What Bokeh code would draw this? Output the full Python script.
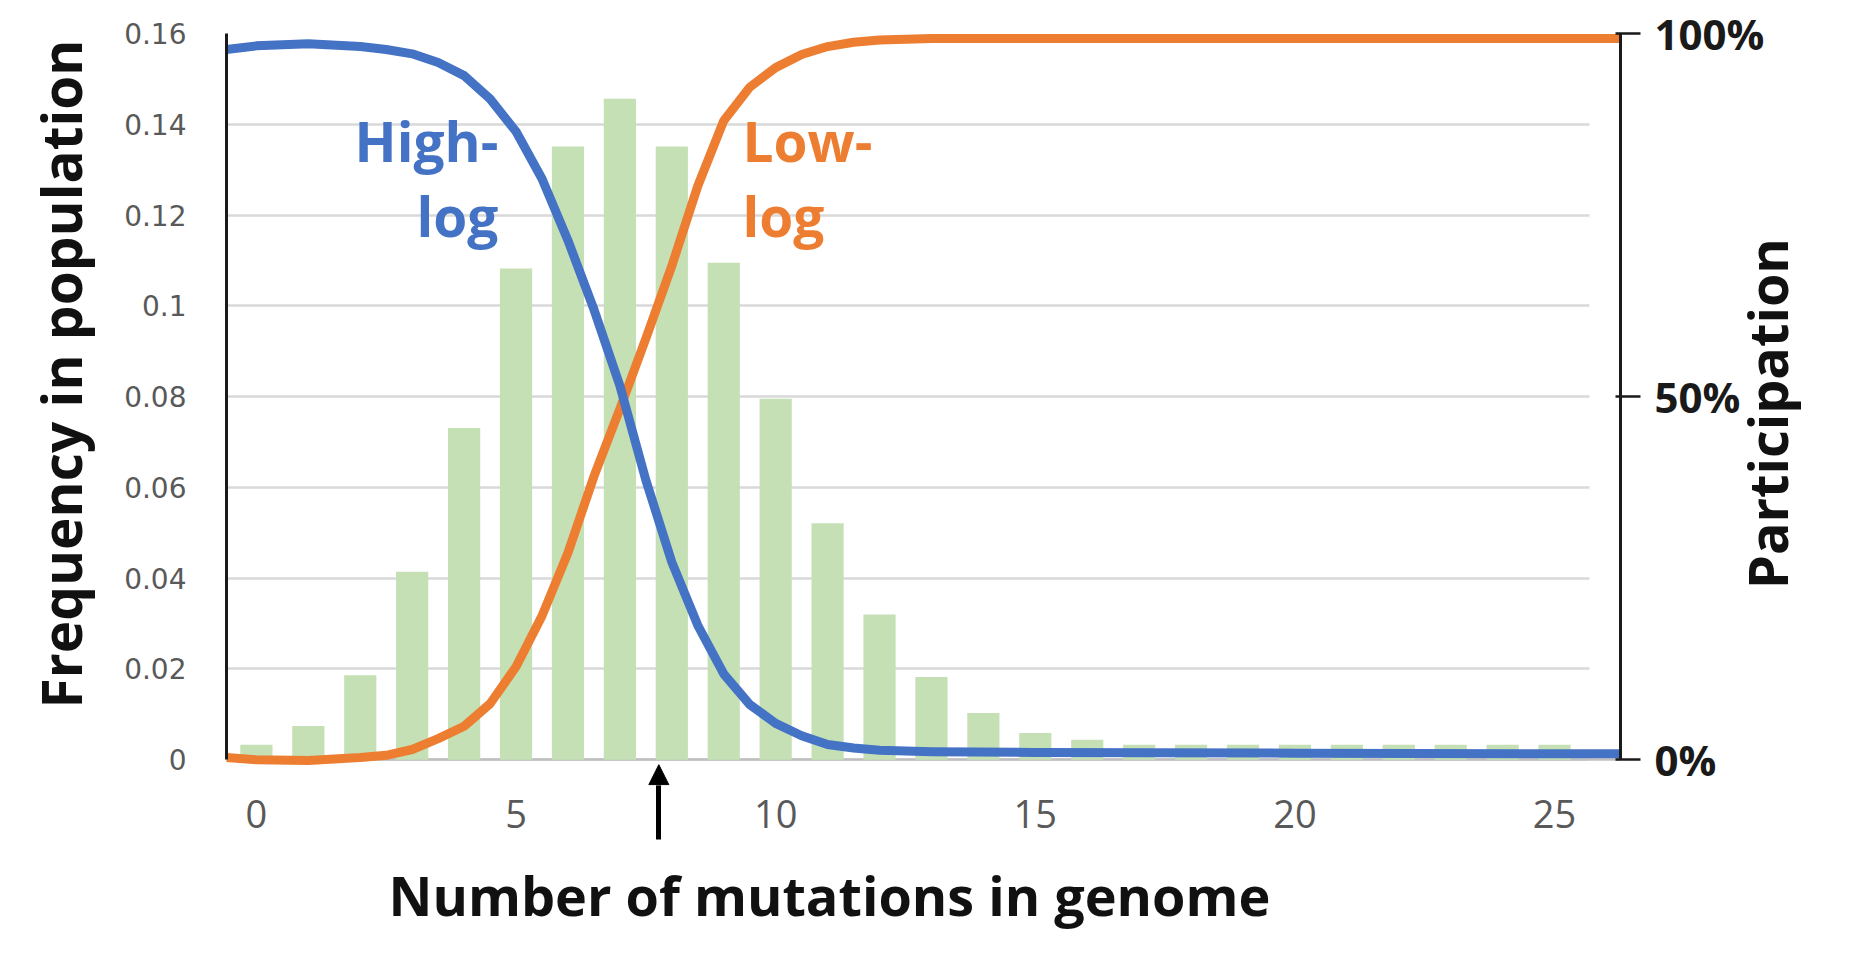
from math import pi
from bokeh.plotting import figure
from bokeh.models import (Range1d, LinearAxis, FixedTicker, NumeralTickFormatter,
                          PrintfTickFormatter, Label, Arrow, NormalHead, Title, Grid)
from bokeh.embed import file_html
from bokeh.resources import INLINE

# ---------------- data ----------------
mutations = list(range(26))
frequency = [0.0033, 0.0074, 0.0186, 0.0414, 0.0731, 0.1082, 0.1351, 0.1456,
             0.1351, 0.1095, 0.0795, 0.0521, 0.0320, 0.0182, 0.0103, 0.0059,
             0.0044, 0.0033, 0.0033, 0.0033, 0.0033, 0.0033, 0.0033, 0.0033,
             0.0033, 0.0033]

curve_x = [-0.58, 0, 1, 2, 2.5, 3, 3.5, 4, 4.5, 5, 5.5, 6, 6.5, 7, 7.5, 8, 8.5,
           9, 9.5, 10, 10.5, 11, 11.5, 12, 13, 15, 20, 26.3]
high_log = [97.8, 98.3, 98.6, 98.2, 97.8, 97.2, 96.0, 94.2, 91.0, 86.5, 80.0,
            71.5, 62.0, 51.5, 38.5, 27.2, 18.5, 11.8, 7.6, 5.0, 3.3, 2.1, 1.6,
            1.3, 1.1, 1.0, 0.9, 0.8]
low_log = [0.3, 0.0, -0.1, 0.3, 0.6, 1.4, 2.9, 4.6, 7.7, 12.8, 19.8, 28.5,
           39.0, 48.3, 58.0, 68.0, 79.0, 88.0, 92.6, 95.3, 97.1, 98.2, 98.8,
           99.1, 99.3, 99.3, 99.3, 99.3]

freq_ticks = [0, 0.02, 0.04, 0.06, 0.08, 0.10, 0.12, 0.14, 0.16]
x_ticks = [0, 5, 10, 15, 20, 25]
pct_ticks = [0, 50, 100]

arrow_x = 7.75
curve_labels = ["High-", "log", "Low-", "log"]
curve_label_x = [4.66, 4.66, 9.36, 9.36]
curve_label_y = [0.1364, 0.1198, 0.1364, 0.1198]

x_title = "Number of mutations in genome"
y_title = "Frequency in population"
y2_title = "Participation"
y2_title_pos = 23.5   # where the rotated right title starts (on the % scale)

BLUE = "#4472C4"
ORANGE = "#ED7D31"
GREEN = "#C5E0B4"

# frame extends a little below 0 so the arrow head fits inside it
Y_MIN = -0.00569
PCT_MIN = Y_MIN / 0.16 * 100

# ---------------- figure ----------------
p = figure(width=1844, height=956, output_backend="svg", toolbar_location=None,
           x_range=Range1d(-0.576, 26.27), y_range=Range1d(Y_MIN, 0.16),
           min_border_left=221, min_border_right=224, min_border_top=33,
           min_border_bottom=166)
p.extra_y_ranges = {"pct": Range1d(PCT_MIN, 100)}
p.outline_line_color = None
p.background_fill_color = "white"
p.border_fill_color = "white"

# grid
p.xgrid.visible = False
p.ygrid.ticker = FixedTicker(ticks=freq_ticks)
p.ygrid.grid_line_color = "#D9D9D9"
p.ygrid.grid_line_width = 2.5
p.ygrid.cross_bounds = (-0.576, 25.67)
# horizontal category-axis line at y = 0
p.add_layout(Grid(dimension=1, ticker=FixedTicker(ticks=[0]),
                  grid_line_color="#BFBFBF", grid_line_width=2.5))

# bars
p.vbar(x=mutations, top=frequency, width=0.62, color=GREEN, line_color=None)

# curves
p.line(curve_x, low_log, y_range_name="pct", line_color=ORANGE, line_width=9,
       line_join="round", line_cap="round")
p.line(curve_x, high_log, y_range_name="pct", line_color=BLUE, line_width=9,
       line_join="round", line_cap="round")

# left axis
ya = p.yaxis[0]
ya.bounds = (0, 0.16)
ya.ticker = FixedTicker(ticks=freq_ticks)
ya.formatter = NumeralTickFormatter(format="0.[00]")
ya.axis_line_color = "#1a1a1a"
ya.axis_line_width = 3
ya.major_tick_out = 0
ya.major_tick_in = 0
ya.minor_tick_out = 0
ya.minor_tick_in = 0
ya.major_label_standoff = 40
ya.major_label_text_font = "DejaVu Sans"
ya.major_label_text_font_size = "28px"
ya.major_label_text_color = "#595959"

# bottom axis; its minor tick at the arrow position is the arrow shaft
xa = p.xaxis[0]
xa.ticker = FixedTicker(ticks=x_ticks, minor_ticks=[arrow_x])
xa.axis_line_color = None
xa.major_tick_out = 0
xa.major_tick_in = 0
xa.minor_tick_in = 0
xa.minor_tick_out = 54
xa.minor_tick_line_color = "black"
xa.minor_tick_line_width = 5
xa.major_label_standoff = -40
xa.major_label_text_font = "Open Sans"
xa.major_label_text_font_size = "38px"
xa.major_label_text_color = "#595959"

# right axis
ra = LinearAxis(y_range_name="pct", ticker=FixedTicker(ticks=pct_ticks),
                formatter=PrintfTickFormatter(format="%d%%"), bounds=(0, 100))
ra.axis_line_color = "#1a1a1a"
ra.axis_line_width = 3
ra.major_tick_out = 20
ra.major_tick_in = 5
ra.major_tick_line_color = "#1a1a1a"
ra.major_tick_line_width = 2.5
ra.minor_tick_out = 0
ra.minor_tick_in = 0
ra.major_label_standoff = 14
ra.major_label_text_font = "Open Sans"
ra.major_label_text_font_style = "bold"
ra.major_label_text_font_size = "42px"
ra.major_label_text_color = "#1a1a1a"
p.add_layout(ra, "right")

# right title, carried by a bare axis so it reads bottom-to-top
ta = LinearAxis(y_range_name="pct", ticker=FixedTicker(ticks=[y2_title_pos]),
                major_label_overrides={y2_title_pos: y2_title},
                major_label_orientation=pi / 2)
ta.axis_line_color = None
ta.major_tick_out = 0
ta.major_tick_in = 0
ta.minor_tick_out = 0
ta.minor_tick_in = 0
ta.major_label_standoff = 0
ta.major_label_text_font = "Open Sans"
ta.major_label_text_font_style = "bold"
ta.major_label_text_font_size = "54px"
ta.major_label_text_color = "#111111"
p.add_layout(ta, "right")

# curve labels
for t, x, y in zip(curve_labels, curve_label_x, curve_label_y):
    is_high = x < 7
    p.add_layout(Label(x=x, y=y, text=t, text_font="Open Sans",
                       text_font_style="bold", text_font_size="55px",
                       text_color=BLUE if is_high else ORANGE,
                       text_align="right" if is_high else "left",
                       text_baseline="alphabetic"))

# axis titles
p.add_layout(Title(text=x_title, align="left", offset=162, standoff=50,
                   text_font="Open Sans", text_font_style="bold",
                   text_font_size="54px", text_color="#111111"), "below")
p.add_layout(Title(text=y_title, align="left", offset=77, standoff=44,
                   vertical_align="top",
                   text_font="Open Sans", text_font_style="bold",
                   text_font_size="55px", text_color="#111111"), "left")

# arrow head just under the axis line
p.add_layout(Arrow(end=NormalHead(size=20, fill_color="black", line_color="black"),
                   x_start=arrow_x, y_start=Y_MIN, x_end=arrow_x, y_end=-0.0011,
                   line_color="black", line_width=5))

open("out.html", "w").write(file_html(p, INLINE))
